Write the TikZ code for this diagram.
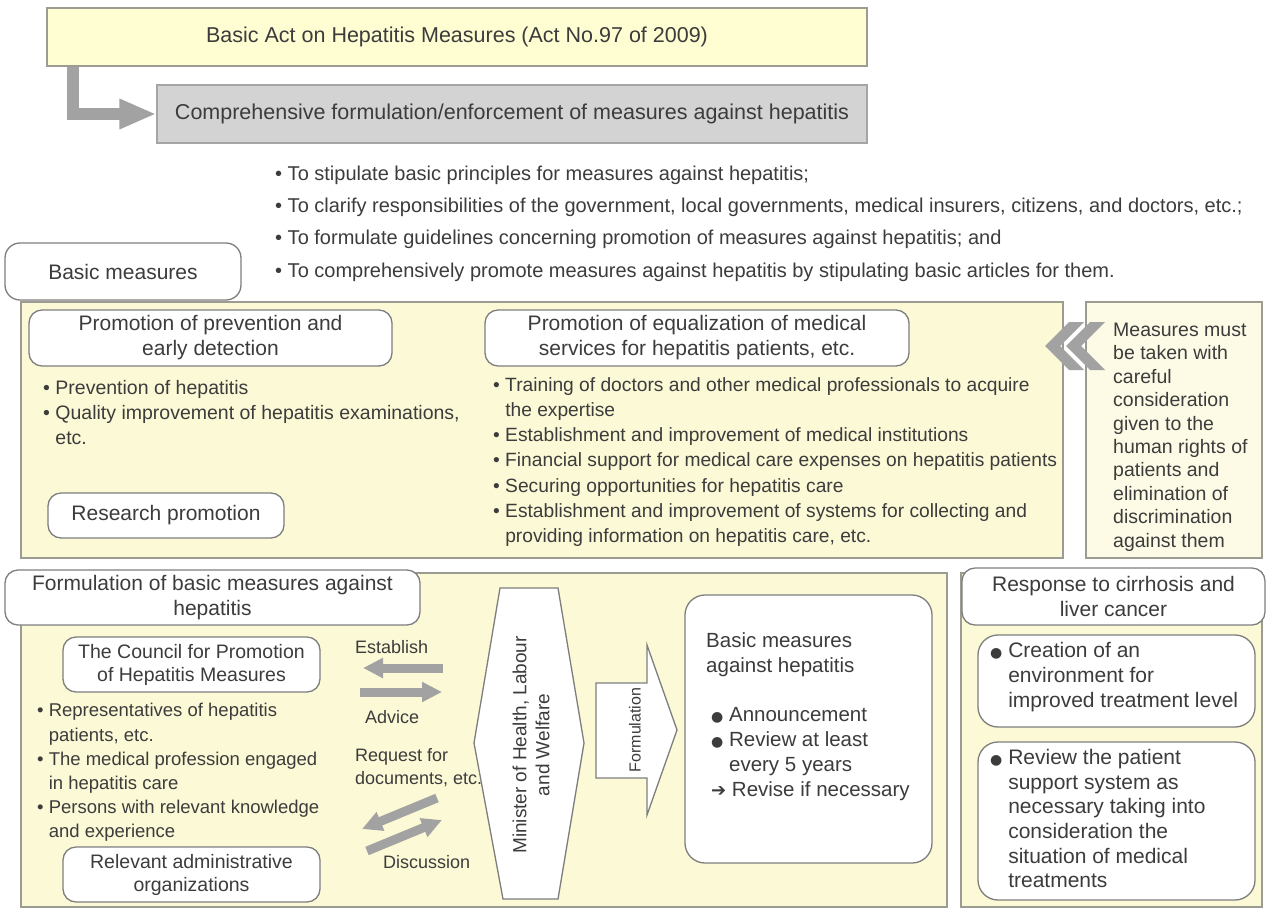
\documentclass[tikz,border=0pt]{standalone}
\usepackage{fontspec}
\setmainfont{Liberation Sans}
\newfontfamily\symf{DejaVu Sans}
\usetikzlibrary{arrows.meta}
\definecolor{txtc}{HTML}{3C3C3C}
\definecolor{topfill}{HTML}{FFFED2}
\definecolor{pfill}{HTML}{FCF9D6}
\definecolor{rfill}{HTML}{FDFBE6}
\definecolor{pbord}{HTML}{9C9C92}
\definecolor{gfill}{HTML}{D3D3D3}
\definecolor{gbord}{HTML}{A5A5A5}
\definecolor{rbord}{HTML}{7E7E7E}
\definecolor{arrc}{HTML}{A2A2A2}
\newcommand{\myfs}[2]{\fontsize{#1}{#2}\selectfont}
\newcommand{\myhang}{\hphantom{• }}
\newcommand{\mydot}{{\symf\fontsize{14}{14}\selectfont ●}}
\newcommand{\myarr}{{\symf\fontsize{18}{18}\selectfont ➔}}
\begin{document}
\begin{tikzpicture}[x=1pt,y=-1pt,
  panel/.style={draw=pbord, fill=pfill, line width=1.4pt},
  rbox/.style={draw=rbord, fill=white, rounded corners=13pt, line width=1.3pt, align=center, text=txtc, inner sep=0pt, font=\myfs{21}{25}},
  txt/.style={inner sep=0pt, align=left, anchor=north west, text=txtc},
  lbl/.style={inner sep=0pt, anchor=base west, text=txtc, font=\myfs{18}{22}},
  garr/.style={draw=arrc, line width=9pt, -{Triangle[length=20pt,width=19pt]}},
  shp/.style={draw=rbord, fill=white, line width=1.3pt}]

\useasboundingbox (0,0) rectangle (1266,911);
\fill[white] (0,0) rectangle (1266,911);

% ---- top
\node[draw=pbord, fill=topfill, line width=1.4pt, minimum width=820pt, minimum height=58pt, inner sep=0pt, text=txtc, font=\myfs{21.5}{25}] (act) at (457,37) {Basic Act on Hepatitis Measures (Act No.97 of 2009)};
\node[draw=gbord, fill=gfill, line width=1.4pt, minimum width=710pt, minimum height=58pt, inner sep=0pt, text=txtc, font=\myfs{21.5}{25}] (comp) at (512,114) {Comprehensive formulation/enforcement of measures against hepatitis};
\draw[draw=arrc, line width=12pt, line join=miter, -{Triangle[length=37pt,width=28pt]}] ([xshift=26.5pt]act.south west) |- (comp.west);

\node[txt, font=\myfs{20}{32.3}] (goals) at (275,165.6) {• To stipulate basic principles for measures against hepatitis;\\• To clarify responsibilities of the government, local governments, medical insurers, citizens, and doctors, etc.;\\• To formulate guidelines concerning promotion of measures against hepatitis; and\\• To comprehensively promote measures against hepatitis by stipulating basic articles for them.};

\node[rbox, minimum width=236pt, minimum height=57pt, rounded corners=15pt] (basic) at (123,271.5) {Basic measures};

% ---- panels
\draw[panel] (21,302) rectangle (1063,558);
\draw[panel, fill=rfill] (1086,302) rectangle (1262,558);
\draw[panel] (21,573) rectangle (947,907);
\draw[panel] (961,573) rectangle (1262,907);

% ---- middle
\node[rbox, minimum width=363pt, minimum height=56pt] (prev) at (210.5,338) {Promotion of prevention and\\early detection};
\node[txt, font=\myfs{19.5}{25}] (prevlist) at (43,379.8) {• Prevention of hepatitis\\• Quality improvement of hepatitis examinations,\\\myhang etc.};
\node[rbox, minimum width=236pt, minimum height=45pt] (research) at (166,515.5) {Research promotion};
\node[rbox, minimum width=424pt, minimum height=56pt] (equal) at (697,338) {Promotion of equalization of medical\\services for hepatitis patients, etc.};
\node[txt, font=\myfs{19.2}{25.3}] (equallist) at (493,376.9) {• Training of doctors and other medical professionals to acquire\\\myhang the expertise\\• Establishment and improvement of medical institutions\\• Financial support for medical care expenses on hepatitis patients\\• Securing opportunities for hepatitis care\\• Establishment and improvement of systems for collecting and\\\myhang providing information on hepatitis care, etc.};
\node[txt, font=\myfs{19.5}{23.4}] (rights) at (1113,322.8) {Measures must\\be taken with\\careful\\consideration\\given to the\\human rights of\\patients and\\elimination of\\discrimination\\against them};
\fill[arrc] (1045,346) -- (1069,322) -- (1084,322) -- (1060,346) -- (1084,370) -- (1069,370) -- cycle;
\fill[arrc] (1066,346) -- (1090,322) -- (1105,322) -- (1081,346) -- (1105,370) -- (1090,370) -- cycle;

% ---- lower left
\node[rbox, minimum width=415pt, minimum height=55pt] (form) at (212.5,597.5) {Formulation of basic measures against\\hepatitis};
\node[rbox, minimum width=257pt, minimum height=55pt, font=\myfs{19.5}{23}] (council) at (191.5,664.5) {The Council for Promotion\\of Hepatitis Measures};
\node[txt, font=\myfs{18.5}{24.2}] (members) at (37,703.2) {• Representatives of hepatitis\\\myhang patients, etc.\\• The medical profession engaged\\\myhang in hepatitis care\\• Persons with relevant knowledge\\\myhang and experience};
\node[rbox, minimum width=257pt, minimum height=55pt, font=\myfs{19.5}{23}] (admin) at (191.5,874.5) {Relevant administrative\\organizations};

\node[lbl] (establish) at (355,653.5) {Establish};
\node[lbl] (advice) at (365,723.5) {Advice};
\node[txt, font=\myfs{18}{23}] (request) at (355,748.3) {Request for\\documents, etc.};
\node[lbl] (discussion) at (383,868.5) {Discussion};

\coordinate (esA) at (443,668); \coordinate (esB) at (363,668);
\coordinate (adA) at (360,692); \coordinate (adB) at (442,692);
\coordinate (rqA) at (437,798); \coordinate (rqB) at (362,829);
\coordinate (dsA) at (367,851); \coordinate (dsB) at (442,820);
\draw[garr] (esA) -- (esB);
\draw[garr] (adA) -- (adB);
\draw[garr] (rqA) -- (rqB);
\draw[garr] (dsA) -- (dsB);

\draw[shp] (500,588) -- (558,588) -- (584,743) -- (558,899) -- (503,899) -- (474,743) -- cycle;
\node[rotate=90, align=center, text=txtc, inner sep=0pt, font=\myfs{19}{23}] (minister) at (531,745) {Minister of Health, Labour\\and Welfare};

\draw[shp] (596,683) -- (647,683) -- (647,645) -- (677,730) -- (647,815) -- (647,778) -- (596,778) -- cycle;
\node[rotate=90, text=txtc, inner sep=0pt, font=\myfs{16}{20}] (formul) at (635,730) {Formulation};

\node[shp, rounded corners=20pt, minimum width=247pt, minimum height=268pt] (bmbox) at (808.5,729) {};
\node[txt, font=\myfs{20.5}{25}] (bmtitle) at (706,632.4) {Basic measures\\against hepatitis};
\node[txt, font=\myfs{20.5}{25}] (bmlist) at (711,707.4) {\mydot\ Announcement\\\mydot\ Review at least\\\hphantom{\mydot\ }every 5 years\\\myarr\ Revise if necessary};

% ---- lower right
\node[rbox, minimum width=303pt, minimum height=57pt] (resp) at (1113.5,596.5) {Response to cirrhosis and\\liver cancer};
\node[shp, rounded corners=20pt, minimum width=277pt, minimum height=92pt] (creabox) at (1116.5,681) {};
\node[txt, font=\myfs{21}{25}] (crea) at (990,642.2) {\mydot\ Creation of an\\\hphantom{\mydot\ }environment for\\\hphantom{\mydot\ }improved treatment level};
\node[shp, rounded corners=20pt, minimum width=277pt, minimum height=158pt] (revbox) at (1116.5,821) {};
\node[txt, font=\myfs{21}{24.6}] (rev) at (990,749.2) {\mydot\ Review the patient\\\hphantom{\mydot\ }support system as\\\hphantom{\mydot\ }necessary taking into\\\hphantom{\mydot\ }consideration the\\\hphantom{\mydot\ }situation of medical\\\hphantom{\mydot\ }treatments};
\end{tikzpicture}
\end{document}
